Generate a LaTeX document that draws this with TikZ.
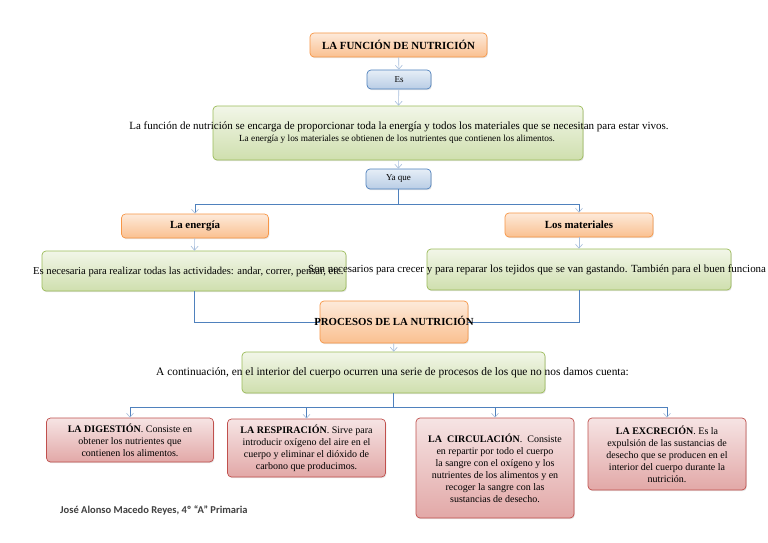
\documentclass[tikz,border=0pt]{standalone}
\usepackage{fontspec}
\setmainfont{Liberation Serif}
\newfontfamily\authorfont{Carlito}
\usetikzlibrary{arrows.meta,shadows}
\definecolor{orbd}{HTML}{F79646}
\definecolor{ortop}{HTML}{FDEADA}
\definecolor{orbot}{HTML}{FAC090}
\definecolor{blbd}{HTML}{4F81BD}
\definecolor{bltop}{HTML}{E6EEF7}
\definecolor{blbot}{HTML}{B9CDE5}
\definecolor{grbd}{HTML}{9BBB59}
\definecolor{grtop}{HTML}{F2F6E8}
\definecolor{grbot}{HTML}{CFDFAE}
\definecolor{rdbd}{HTML}{C0504D}
\definecolor{rdtop}{HTML}{F6E4E4}
\definecolor{rdbot}{HTML}{E2A8A7}
\definecolor{linec}{HTML}{4F81BD}
\definecolor{palec}{HTML}{A7BEDC}
\definecolor{authc}{HTML}{404040}
\tikzset{
  box/.style={rounded corners=4pt, line width=0.7pt, inner sep=0pt, align=center,
    drop shadow={opacity=0.2, shadow xshift=0.8pt, shadow yshift=-1.2pt}},
  orbox/.style={box, draw=orbd, top color=ortop, bottom color=orbot},
  blbox/.style={box, draw=blbd, top color=bltop, bottom color=blbot},
  grbox/.style={box, draw=grbd, top color=grtop, bottom color=grbot},
  rdbox/.style={box, draw=rdbd, top color=rdtop, bottom color=rdbot},
  paletip/.style={-{Straight Barb[length=4pt,width=7pt,color=palec,line width=0.6pt]}},
  pale/.style={draw=palec, line width=0.6pt, paletip},
  conn/.style={draw=linec, line width=0.8pt},
  connar/.style={conn, paletip},
  txt/.style={inner sep=0pt, align=center},
  redtxt/.style={font=\fontsize{10}{12}\selectfont}
}
\begin{document}
\begin{tikzpicture}[x=1pt,y=-1pt]
\useasboundingbox[fill=white] (0,0) rectangle (768,543);

% top part
\node[orbox, minimum width=177, minimum height=24] (title) at (398.5,45) {\fontsize{10.9}{12}\selectfont\bfseries LA FUNCIÓN DE NUTRICIÓN};
\node[blbox, minimum width=64, minimum height=19] (es) at (399,79.5) {\fontsize{9}{10}\selectfont Es};
\node[grbox, minimum width=370, minimum height=54] (main) at (398,133) {};
\node[txt] (mainA) at (399,127) {\fontsize{11}{12}\selectfont La función de nutrición se encarga de proporcionar toda la energía y todos los materiales que se necesitan para estar vivos.};
\node[txt] (mainB) at (397,139.5) {\fontsize{9.3}{10}\selectfont La energía y los materiales se obtienen de los nutrientes que contienen los alimentos.};
\node[blbox, minimum width=65, minimum height=20] (yaque) at (398.5,179) {\fontsize{9}{10}\selectfont Ya que};

\draw[pale] (title) -- (es);
\draw[pale] (es) -- (main);
\draw[pale] (main) -- (yaque);

% energy / materials
\node[orbox, minimum width=147, minimum height=24] (en) at (195,226) {\fontsize{10.9}{12}\selectfont\bfseries La energía};
\node[orbox, minimum width=148, minimum height=24] (mat) at (579,225) {\fontsize{10.9}{12}\selectfont\bfseries Los materiales};
\node[grbox, minimum width=304, minimum height=40] (gl) at (194,271) {};
\node[grbox, minimum width=304, minimum height=41] (gr) at (579,269.5) {};
\node[txt, anchor=west] (glt) at (33,272) {\fontsize{10.6}{12}\selectfont Es necesaria para realizar todas las actividades: andar, correr, pensar, etc.};
\node[txt, anchor=west] (grt) at (308,270) {\fontsize{10.9}{12}\selectfont Son necesarios para crecer y para reparar los tejidos que se van gastando. También para el buen funciona};

\coordinate (j1) at (398.5,204);
\draw[conn] (yaque.south) -- (j1);
\draw[connar] (j1) -| (en.north);
\draw[connar] (j1) -| (mat.north);
\draw[pale] (en) -- (gl);
\draw[pale] (mat) -- (gr);

% processes
\node[orbox, minimum width=148, minimum height=42] (proc) at (394,322) {};
\draw[conn] (gl.south) |- (proc.west);
\draw[conn] (gr.south) |- (proc.east);
\node[txt] (proct) at (394,321) {\fontsize{10.8}{12}\selectfont\bfseries PROCESOS DE LA NUTRICIÓN};
\node[grbox, minimum width=303, minimum height=41] (gp) at (393.5,372.5) {};
\node[txt] (gpt) at (392.5,373) {\fontsize{11.4}{12}\selectfont A continuación, en el interior del cuerpo ocurren una serie de procesos de los que no nos damos cuenta:};
\draw[pale] (proc) -- (gp);

% red boxes
\node[rdbox, minimum width=167, minimum height=44] (r1) at (130,440) {};
\node[rdbox, minimum width=158, minimum height=58] (r2) at (306.5,448) {};
\node[rdbox, minimum width=158, minimum height=100] (r3) at (495,468) {};
\node[rdbox, minimum width=158, minimum height=72] (r4) at (667,454) {};
\node[txt, redtxt] (r1t) at (r1) {\textbf{LA DIGESTIÓN}. Consiste en\\obtener los nutrientes que\\contienen los alimentos.};
\node[txt, redtxt] (r2t) at (r2) {\textbf{LA RESPIRACIÓN}. Sirve para\\introducir oxígeno del aire en el\\cuerpo y eliminar el dióxido de\\carbono que producimos.};
\node[txt, redtxt] (r3t) at (r3) {\textbf{LA\ \ CIRCULACIÓN}.\ \ Consiste\\en repartir por todo el cuerpo\\la sangre con el oxígeno y los\\nutrientes de los alimentos y en\\recoger la sangre con las\\sustancias de desecho.};
\node[txt, redtxt] (r4t) at (r4) {\textbf{LA EXCRECIÓN}. Es la\\expulsión de las sustancias de\\desecho que se producen en el\\interior del cuerpo durante la\\nutrición.};

\coordinate (j2) at (393.5,407.5);
\draw[conn] (gp.south) -- (j2);
\draw[connar] (j2) -| (r1.north);
\draw[connar] (j2) -| (r2.north);
\draw[connar] (j2) -| (r3.north);
\draw[connar] (j2) -| (r4.north);

\node[txt, anchor=west, text=authc] (auth) at (60,510) {\authorfont\bfseries\fontsize{10.5}{12}\selectfont José Alonso Macedo Reyes, 4º “A” Primaria};
\end{tikzpicture}
\end{document}
